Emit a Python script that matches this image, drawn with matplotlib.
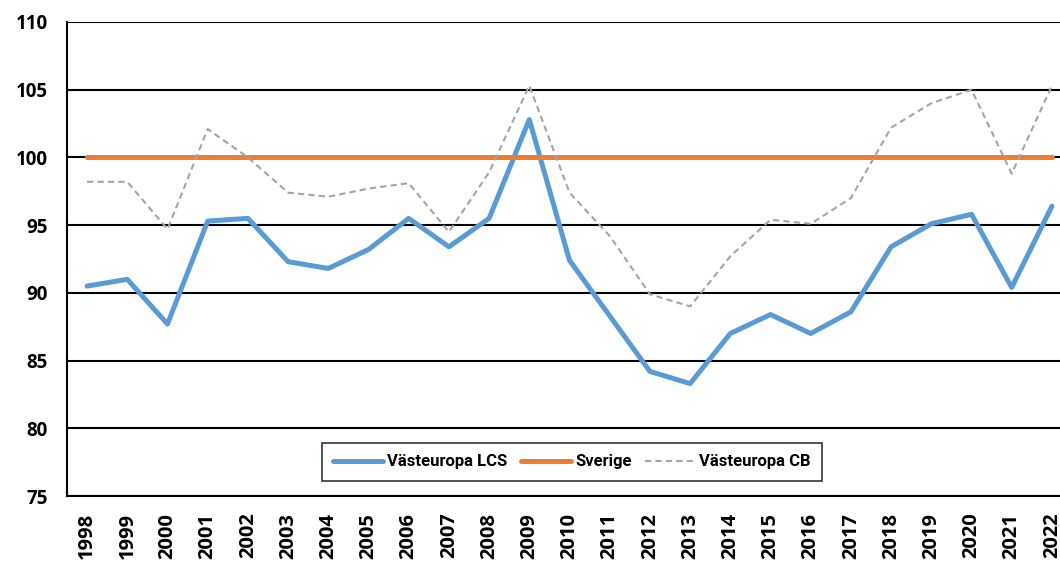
import matplotlib.pyplot as plt

years = [str(y) for y in range(1998, 2023)]
lcs = [90.5, 91.0, 87.7, 95.3, 95.5, 92.3, 91.8, 93.2, 95.5, 93.4, 95.5, 102.8,
       92.4, 88.3, 84.2, 83.3, 87.0, 88.4, 87.0, 88.6, 93.4, 95.1, 95.8, 90.4, 96.4]
sverige = [100] * 25
cb = [98.2, 98.2, 94.7, 102.1, 100.0, 97.4, 97.1, 97.7, 98.1, 94.5, 98.9, 105.3,
      97.4, 94.2, 89.9, 89.0, 92.7, 95.4, 95.1, 97.0, 102.2, 104.0, 105.0, 98.8, 105.3]

plt.rcParams['font.family'] = ['Open Sans', 'DejaVu Sans']

fig = plt.figure(figsize=(10.6, 5.61), dpi=100)
ax = fig.add_axes([67/1060, 65/561, 1005/1060, 474/561])

x = range(len(years))
ax.plot(x, lcs, color='#5B9BD5', lw=3.6, solid_capstyle='round', solid_joinstyle='round',
        label='Västeuropa LCS', zorder=3)
ax.plot(x, sverige, color='#ED7D31', lw=3.6, solid_capstyle='round',
        label='Sverige', zorder=3)
ax.plot(x, cb, color='#A5A5A5', lw=1.5, ls=(0, (3, 2)),
        label='Västeuropa CB', zorder=3)

ax.set_xlim(-0.5, 24.5)
ax.set_ylim(75, 110)
ax.set_yticks(range(75, 111, 5))
ax.set_xticks(list(x))
ax.set_xticklabels(years, rotation=90, fontweight='bold', fontsize=14.5)
for t in ax.get_yticklabels():
    t.set_fontweight('bold')
    t.set_fontsize(13.5)
ax.tick_params(length=0)
ax.tick_params(axis='y', pad=14)
ax.tick_params(axis='x', pad=12)

ax.grid(axis='y', color='black', lw=1.5, zorder=1)
for s in ['top', 'right']:
    ax.spines[s].set_visible(False)
ax.spines['left'].set_linewidth(1.5)
ax.spines['bottom'].set_linewidth(1.5)

leg = ax.legend(loc='center', bbox_to_anchor=(0.5025, 0.072), ncol=3, frameon=True,
                fancybox=False, handlelength=3.0, borderaxespad=0, borderpad=0.7,
                columnspacing=0.8, handletextpad=0.25,
                prop={'family': ['Roboto'], 'weight': 'bold', 'size': 12})
leg.get_frame().set_edgecolor('black')
leg.get_frame().set_linewidth(1.2)

fig.savefig('out.png', dpi=100)
